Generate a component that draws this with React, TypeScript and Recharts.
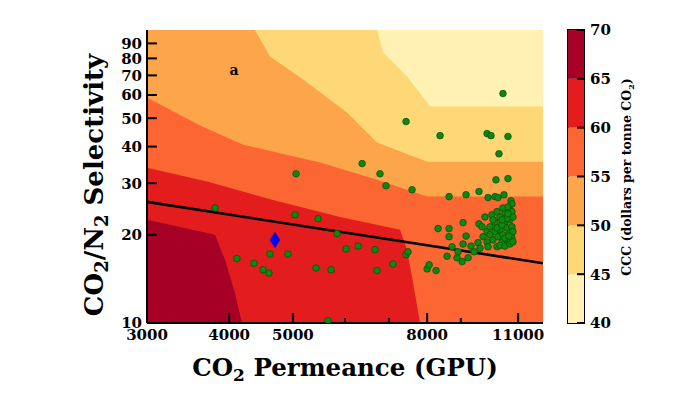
import React from 'react';
import {
  ComposedChart, Area, Line, Scatter, XAxis, YAxis, ReferenceDot, Label,
  BarChart, Bar, ReferenceArea,
} from 'recharts';

const FONT = '"DejaVu Serif", serif';

// ---- axes ----
const xMajorTicks = [3000, 4000, 5000, 8000, 11000];
const xMinorTicks = [6000, 7000, 9000];
const xAllTicks = [3000, 4000, 5000, 6000, 7000, 8000, 9000, 11000];
const yTicks = [10, 20, 30, 40, 50, 60, 70, 80, 90];
const xDomain = [3000, 12000];
const yDomain = [10, 100];

// ---- colour levels (CCC, dollars per tonne CO2) ----
const cbLevels = [40, 45, 50, 55, 60, 65, 70];
const cbColors = ['#fff2b2', '#fed776', '#fca54a', '#fc6633', '#e31c1e', '#a60027'];

// ---- contour boundaries: [permeance, selectivity]; cost >= level lies below ----
const boundary40 = [[3000, 100], [12000, 100]];
const boundary45 = [[3000, 100], [6711, 100], [6856, 83.8], [7455, 69.4], [8082, 54.8], [12000, 54.8]];
const boundary50 = [[3000, 100], [4377, 100], [4614, 81.2], [5180, 67.8], [6042, 52.3], [6711, 41.3], [7999, 35.5], [12000, 35.5]];
const boundary55 = [[3000, 58.8], [3612, 47.2], [4199, 40.6], [5498, 35.3], [6711, 30.8], [7999, 27.0], [12000, 27.0]];
const boundary60 = [[3000, 33.9], [3701, 30.4], [4664, 26.3], [5895, 23.0], [7274, 20.8], [7455, 17.8], [7615, 13.7], [7803, 10]];
const boundary65 = [[3000, 22.5], [3807, 20.0], [3943, 16.4], [4082, 12.66], [4183, 10]];

// ---- membranes (green dots) ----
const membranes = [
  [10431, 60.7], [7430, 48.7], [8369, 43.6], [9866, 44.3], [10003, 43.6], [10615, 43.3], [10286, 37.8],
  [6370, 35.0], [6782, 32.3], [5055, 32.3], [6926, 29.4], [7587, 28.5], [10615, 31.1], [10178, 30.8],
  [8637, 27.0], [9166, 27.4], [9591, 28.1], [10467, 27.4], [9900, 26.8], [10143, 27.0], [10250, 26.8],
  [10726, 26.1], [10765, 25.5], [3807, 24.7], [5037, 23.4], [5459, 22.7], [5835, 20.2], [8311, 21.0],
  [6021, 17.9], [6282, 18.3], [6665, 17.8], [4110, 16.6], [4362, 16.0], [4614, 17.2], [4914, 17.2],
  [4503, 15.2], [4598, 14.8], [5420, 15.4], [5714, 15.2], [6711, 15.1], [7099, 15.9], [7430, 17.1],
  [7482, 17.5], [7999, 15.3], [8055, 15.8], [8253, 15.1], [5653, 10.2],
  [8637, 21.0], [8637, 19.7], [8727, 18.2], [9071, 22.0], [9071, 18.6], [9591, 21.8], [9692, 21.3],
  [9794, 23.0], [10038, 23.4], [9557, 18.8], [9728, 19.7], [9866, 20.5], [9969, 21.3], [10143, 22.1],
  [10322, 23.0], [10503, 23.8], [10689, 24.3], [10431, 24.7], [10615, 24.9], [10765, 24.0], [10214, 24.0],
  [10073, 22.5], [10322, 21.3], [10503, 22.0], [10689, 22.5], [10802, 23.0], [9969, 20.0], [10143, 20.5],
  [10322, 20.8], [10579, 21.1], [10765, 21.3], [9866, 18.9], [10073, 19.2], [10250, 19.7], [10431, 20.0],
  [10689, 20.3], [10802, 20.5], [10214, 18.2], [10394, 18.8], [10579, 19.2], [10765, 19.5], [9624, 18.0],
  [9900, 18.2], [8577, 16.9], [8881, 16.7], [9040, 16.2], [9232, 16.7], [9427, 17.5], [9166, 19.8],
  [9327, 18.3], [8914, 17.5], [10322, 18.4], [10503, 18.3], [10689, 18.6], [10802, 18.9], [10503, 19.5],
  [10652, 19.8], [10214, 21.1], [10394, 21.6], [10579, 22.7], [10394, 22.5], [10615, 23.6],
];

const reference = [[4695, 19.2]];
const fitLine = [[3000, 25.9], [12000, 16.0]];
const panelLabel = { text: 'a', x: 4069, y: 72.7 };

const toPts = (arr: number[][]) => arr.map(([x, y]) => ({ x, y }));
const bands = [boundary40, boundary45, boundary50, boundary55, boundary60, boundary65].map(toPts);

const cbRow: any = { name: 'cb', base: cbLevels[0] };
cbColors.forEach((_, i) => { cbRow['s' + i] = cbLevels[i + 1] - cbLevels[i]; });
const cbData = [cbRow];

const tickText = { fontFamily: FONT, fontWeight: 'bold' as const, fontSize: 15, fill: '#000' };

const BottomTick = (p: any) => {
  const major = xMajorTicks.includes(p.payload.value);
  return (
    <g>
      <line x1={p.x} y1={p.y} x2={p.x} y2={p.y - (major ? 10 : 5)} stroke="#000" strokeWidth={2} />
      {major && <text x={p.x} y={p.y + 17} textAnchor="middle" {...tickText}>{p.payload.value}</text>}
    </g>
  );
};
const TopTick = (p: any) => {
  const major = xMajorTicks.includes(p.payload.value);
  return <line x1={p.x} y1={p.y} x2={p.x} y2={p.y + (major ? 10 : 5)} stroke="#000" strokeWidth={2} />;
};
const LeftTick = (p: any) => (
  <g>
    <line x1={p.x} y1={p.y} x2={p.x + 10} y2={p.y} stroke="#000" strokeWidth={2} />
    <text x={p.x - 5} y={p.y} dy="0.36em" textAnchor="end" {...tickText}>{p.payload.value}</text>
  </g>
);
const RightTick = (p: any) => (
  <line x1={p.x} y1={p.y} x2={p.x - 10} y2={p.y} stroke="#000" strokeWidth={2} />
);
const CbTick = (p: any) => (
  <g>
    <line x1={p.x} y1={p.y} x2={p.x - 7} y2={p.y} stroke="#000" strokeWidth={2} />
    <text x={p.x + 6} y={p.y} dy="0.36em" textAnchor="start" {...tickText}>{p.payload.value}</text>
  </g>
);

const XTitle = (props: any) => {
  const vb = props.viewBox || { x: 147, y: 323, width: 396, height: 71 };
  return (
    <text x={vb.x + vb.width / 2} y={vb.y + 53} textAnchor="middle" fontFamily={FONT} fontWeight="bold" fontSize={24.5} fill="#000">
      CO<tspan fontSize={17} dy={5}>2</tspan><tspan dy={-5}> Permeance (GPU)</tspan>
    </text>
  );
};
const YTitle = (props: any) => {
  const vb = props.viewBox || { x: 0, y: 30, width: 147, height: 293 };
  const cx = vb.x + 103;
  const cy = vb.y + 155;
  return (
    <text x={cx} y={cy} transform={`rotate(-90, ${cx}, ${cy})`} textAnchor="middle" fontFamily={FONT} fontWeight="bold" fontSize={26} fill="#000">
      CO<tspan fontSize={18} dy={5}>2</tspan><tspan dy={-5}>/N</tspan><tspan fontSize={18} dy={5}>2</tspan><tspan dy={-5}> Selectivity</tspan>
    </text>
  );
};
const CbTitle = (props: any) => {
  const vb = props.viewBox || { x: 24, y: 30, width: 116, height: 293 };
  const cx = vb.x + 47;
  const cy = vb.y + 147;
  return (
    <text x={cx} y={cy} transform={`rotate(-90, ${cx}, ${cy})`} textAnchor="middle" fontFamily={FONT} fontWeight="bold" fontSize={12.5} fill="#000">
      CCC (dollars per tonne CO<tspan fontSize={8} dy={3}>2</tspan><tspan dy={-3}>)</tspan>
    </text>
  );
};

const GreenDot = (p: any) => (
  <circle cx={p.cx} cy={p.cy} r={3.3} fill="#0e880e" stroke="#075207" strokeWidth={0.8} />
);
const Diamond = (p: any) => (
  <polygon points={`${p.cx},${p.cy - 7.5} ${p.cx + 4.8},${p.cy} ${p.cx},${p.cy + 7.5} ${p.cx - 4.8},${p.cy}`} fill="#0000ff" stroke="#0000cc" strokeWidth={0.8} />
);
const PanelText = (p: any) => (
  <text x={p.cx} y={p.cy} dy="0.35em" textAnchor="middle" fontFamily={FONT} fontWeight="bold" fontSize={14} fill="#000">{panelLabel.text}</text>
);

export default function App() {
  return (
    <div style={{ position: 'absolute', left: 0, top: 0, width: 700, height: 394, background: '#fff' }}>
      <div style={{ position: 'absolute', left: 0, top: 0 }}>
        <ComposedChart width={560} height={394} margin={{ top: 30, right: 17, bottom: 0, left: 0 }}>
          {bands.map((d, i) => (
            <Area key={i} data={d} dataKey="y" type="linear" baseValue={10} fill={cbColors[i]} fillOpacity={1}
              stroke="none" dot={false} activeDot={false} isAnimationActive={false} />
          ))}
          <Line data={toPts(fitLine)} dataKey="y" type="linear" stroke="#000" strokeWidth={2.6} dot={false} activeDot={false} isAnimationActive={false} />
          <Scatter data={toPts(membranes)} shape={GreenDot} isAnimationActive={false} />
          <Scatter data={toPts(reference)} shape={Diamond} isAnimationActive={false} />
          <ReferenceDot x={panelLabel.x} y={panelLabel.y} r={0} shape={PanelText} ifOverflow="visible" />
          <XAxis dataKey="x" type="number" scale="log" domain={xDomain} allowDataOverflow ticks={xAllTicks} interval={0}
            tick={<BottomTick />} tickLine={false} tickSize={0} tickMargin={0} height={71}
            axisLine={{ stroke: '#000', strokeWidth: 2 }}>
            <Label content={XTitle} />
          </XAxis>
          <XAxis xAxisId="top" orientation="top" dataKey="x" type="number" scale="log" domain={xDomain} allowDataOverflow ticks={xAllTicks} interval={0}
            tick={<TopTick />} tickLine={false} tickSize={0} tickMargin={0} height={0}
            axisLine={{ stroke: '#000', strokeWidth: 2 }} />
          <YAxis dataKey="y" type="number" scale="log" domain={yDomain} allowDataOverflow ticks={yTicks} interval={0}
            tick={<LeftTick />} tickLine={false} tickSize={0} tickMargin={0} width={147}
            axisLine={{ stroke: '#000', strokeWidth: 2 }}>
            <Label content={YTitle} />
          </YAxis>
          <YAxis yAxisId="right" orientation="right" dataKey="y" type="number" scale="log" domain={yDomain} allowDataOverflow ticks={yTicks} interval={0}
            tick={<RightTick />} tickLine={false} tickSize={0} tickMargin={0} width={0}
            axisLine={{ stroke: '#000', strokeWidth: 2 }} />
        </ComposedChart>
      </div>
      <div style={{ position: 'absolute', left: 560, top: 0 }}>
        <BarChart width={140} height={394} data={cbData} margin={{ top: 30, right: 0, bottom: 71, left: 8 }} barCategoryGap={0} barGap={0}>
          <XAxis dataKey="name" hide />
          <Bar dataKey="base" stackId="cb" fill="none" isAnimationActive={false} />
          {cbColors.map((c, i) => (
            <Bar key={i} dataKey={'s' + i} stackId="cb" fill={c} isAnimationActive={false} />
          ))}
          <ReferenceArea y1={cbLevels[0]} y2={cbLevels[cbLevels.length - 1]} fill="none" fillOpacity={0} stroke="#000" strokeWidth={2} ifOverflow="visible" />
          <YAxis orientation="right" type="number" domain={[cbLevels[0], cbLevels[cbLevels.length - 1]]} allowDataOverflow ticks={cbLevels} interval={0}
            tick={<CbTick />} tickLine={false} tickSize={0} tickMargin={0} width={116} axisLine={false}>
            <Label content={CbTitle} />
          </YAxis>
        </BarChart>
      </div>
    </div>
  );
}
